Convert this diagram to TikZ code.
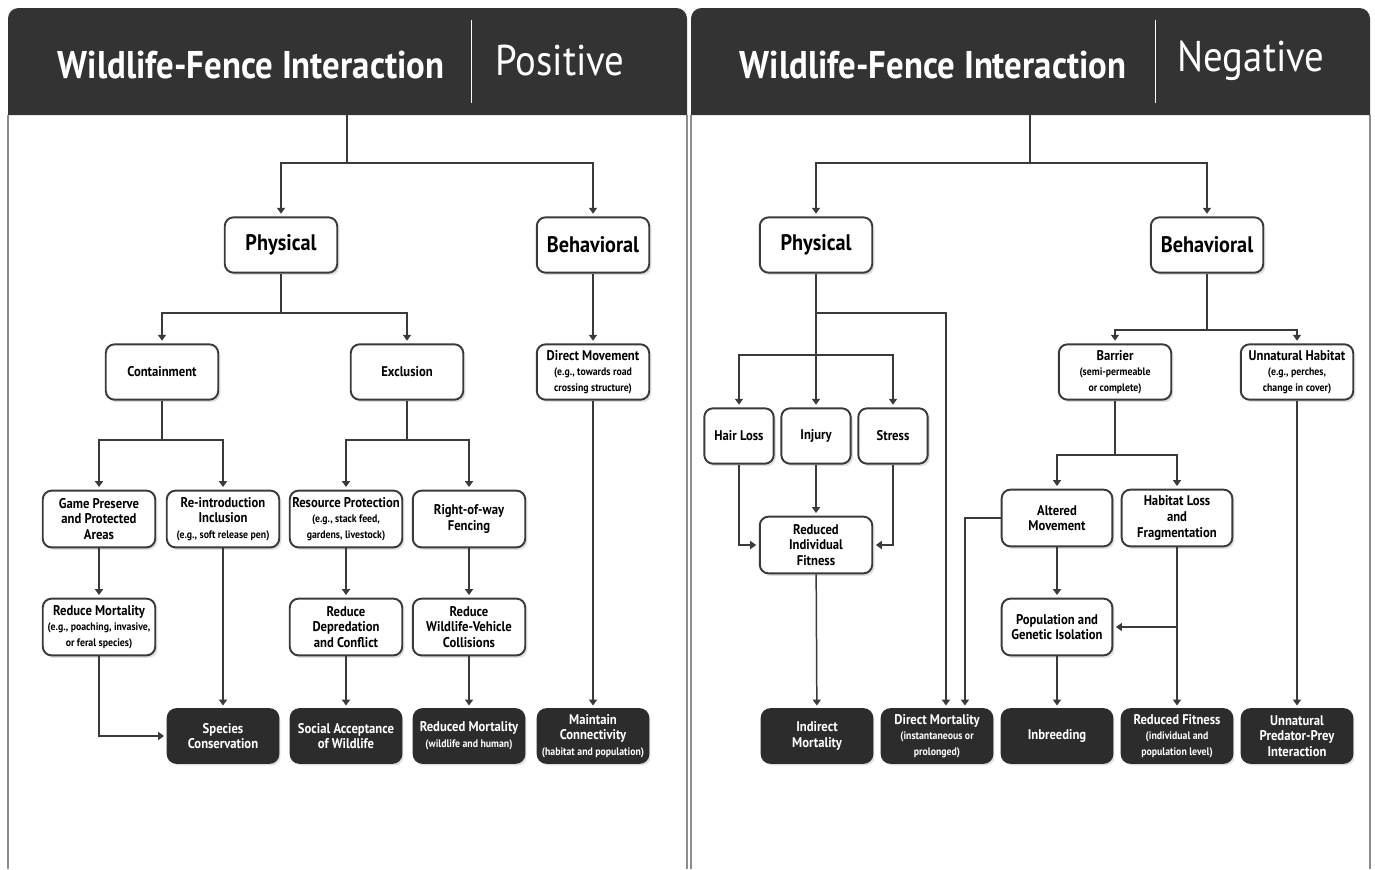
\documentclass[tikz,border=0pt]{standalone}
\usepackage{fontspec}
\setmainfont{PT Sans}[FakeStretch=0.9]
\usetikzlibrary{arrows.meta,shadows}

\definecolor{headdark}{HTML}{333333}
\definecolor{boxdark}{HTML}{2C2C2C}
\definecolor{linegrey}{HTML}{3A3A3A}
\definecolor{framegrey}{HTML}{8C8C8C}
\newcommand{\smallnote}{\fontsize{6.2}{7}\selectfont}

\begin{document}
\begin{tikzpicture}[
  x=0.02cm, y=-0.02cm,
  lightbox/.style={draw=linegrey, line width=1.1pt, rounded corners=5pt, fill=white, align=center, inner sep=1pt,
    minimum width=64pt, minimum height=31.5pt, font=\fontsize{8}{8.9}\selectfont\bfseries,
    drop shadow={shadow xshift=1.2pt, shadow yshift=-1.4pt, opacity=.25}},
  topbox/.style={lightbox, font=\fontsize{12.8}{14}\selectfont\bfseries},
  smallbox/.style={lightbox, minimum width=39.5pt},
  darkbox/.style={lightbox, fill=boxdark, draw=boxdark, text=white, minimum width=63pt, minimum height=30.6pt},
  link/.style={draw=linegrey, line width=0.85pt},
  arr/.style={link, -{Triangle[width=4.6pt,length=3.4pt]}, shorten >=1.5pt},
  titletxt/.style={text=white, font=\fontsize{22}{26}\selectfont\bfseries},
  kindtxt/.style={text=white, font=\fontsize{24.5}{28}\selectfont}
]
\useasboundingbox[fill=white] (0,0) rectangle (1375,869);

% panel frames and dark headers
\fill[headdark] (8,115) [rounded corners=6pt] -- (8,8) -- (687,8) [sharp corners] -- (687,115) -- cycle;
\fill[headdark] (691,115) [rounded corners=6pt] -- (691,8) -- (1370,8) [sharp corners] -- (1370,115) -- cycle;
\draw[framegrey, line width=1.1pt] (8,115) -- (8,869) (687,115) -- (687,869);
\draw[framegrey, line width=1.1pt] (691,115) -- (691,869) (1370,115) -- (1370,869);
\draw[white, line width=0.5pt] (471,20) -- (471,103) (1155,20) -- (1155,103);

\node[titletxt] (ltitle) at (251,65) {Wildlife-Fence Interaction};
\node[kindtxt] (lkind) at (560,61) {Positive};
\node[titletxt] (rtitle) at (933,65) {Wildlife-Fence Interaction};
\node[kindtxt] (rkind) at (1251,61) {Negative};

% Positive side
\node[topbox] (lphys) at (281,245) {Physical};
\node[topbox] (lbeh) at (593,245) {Behavioral};
\node[lightbox] (cont) at (162,372) {Containment};
\node[lightbox] (excl) at (407,372) {Exclusion};
\node[lightbox] (dmove) at (593,372) {Direct Movement\\\smallnote (e.g., towards road\\\smallnote crossing structure)};
\node[lightbox, minimum height=32.3pt] (gamep) at (99,519) {Game Preserve\\and Protected\\Areas};
\node[lightbox, minimum height=32.3pt] (reint) at (223,519) {Re-introduction\\Inclusion\\\smallnote (e.g., soft release pen)};
\node[lightbox, minimum height=32.3pt] (resp) at (346,519) {Resource Protection\\\smallnote (e.g., stack feed,\\\smallnote gardens, livestock)};
\node[lightbox, minimum height=32.3pt] (rway) at (469,519) {Right-of-way\\Fencing};
\node[lightbox, minimum height=32.3pt] (redm) at (99,627) {Reduce Mortality\\\smallnote (e.g., poaching, invasive,\\\smallnote or feral species)};
\node[lightbox, minimum height=32.3pt] (reddep) at (346,627) {Reduce\\Depredation\\and Conflict};
\node[lightbox, minimum height=32.3pt] (redwvc) at (469,627) {Reduce\\Wildlife-Vehicle\\Collisions};
\node[darkbox] (specc) at (223,736) {Species\\Conservation};
\node[darkbox] (socacc) at (346,736) {Social Acceptance\\of Wildlife};
\node[darkbox] (redmort) at (469,736) {Reduced Mortality\\\smallnote (wildlife and human)};
\node[darkbox] (maincon) at (593,736) {Maintain\\Connectivity\\\smallnote (habitat and population)};

\coordinate (lroot) at (347,115);
\coordinate (lsplit) at (347,163);
\coordinate (lphysj) at (281,313);
\coordinate (contj) at (162,440);
\coordinate (exclj) at (407,440);
\draw[link] (lroot) -- (lsplit);
\draw[arr] (lsplit) -| (lphys.north);
\draw[arr] (lsplit) -| (lbeh.north);
\draw[link] (lphys) -- (lphysj);
\draw[arr] (lphysj) -| (cont.north);
\draw[arr] (lphysj) -| (excl.north);
\draw[arr] (lbeh) -- (dmove);
\draw[link] (cont) -- (contj);
\draw[arr] (contj) -| (gamep.north);
\draw[arr] (contj) -| (reint.north);
\draw[link] (excl) -- (exclj);
\draw[arr] (exclj) -| (resp.north);
\draw[arr] (exclj) -| (rway.north);
\draw[arr] (gamep) -- (redm);
\draw[arr] (redm.south) |- (specc.west);
\draw[arr] (reint) -- (specc);
\draw[arr] (resp) -- (reddep);
\draw[arr] (reddep) -- (socacc);
\draw[arr] (rway) -- (redwvc);
\draw[arr] (redwvc) -- (redmort);
\draw[arr] (dmove) -- (maincon);

% Negative side
\node[topbox] (rphys) at (816,245) {Physical};
\node[topbox] (rbeh) at (1207,245) {Behavioral};
\node[smallbox] (hair) at (739,436) {Hair Loss};
\node[smallbox] (injury) at (816,436) {Injury};
\node[smallbox] (stress) at (893,436) {Stress};
\node[lightbox, minimum height=32.3pt] (rif) at (816,545) {Reduced\\Individual\\Fitness};
\node[lightbox] (barrier) at (1115,372) {Barrier\\\smallnote (semi-permeable\\\smallnote or complete)};
\node[lightbox] (unhab) at (1297,372) {Unnatural Habitat\\\smallnote (e.g., perches,\\\smallnote change in cover)};
\node[lightbox, minimum width=63pt, minimum height=32.3pt] (altm) at (1057,518) {Altered\\Movement};
\node[lightbox, minimum width=63pt, minimum height=32.3pt] (hloss) at (1177,518) {Habitat Loss\\and\\Fragmentation};
\node[lightbox, minimum width=63pt, minimum height=32.3pt] (pgi) at (1057,627) {Population and\\Genetic Isolation};
\node[darkbox] (indm) at (817,736) {Indirect\\Mortality};
\node[darkbox] (dirm) at (937,736) {Direct Mortality\\\smallnote (instantaneous or\\\smallnote prolonged)};
\node[darkbox] (inbr) at (1057,736) {Inbreeding};
\node[darkbox] (redfit) at (1177,736) {Reduced Fitness\\\smallnote (individual and\\\smallnote population level)};
\node[darkbox] (predp) at (1297,736) {Unnatural\\Predator-Prey\\Interaction};

\coordinate (rroot) at (1030,115);
\coordinate (rsplit) at (1030,163);
\coordinate (rphysj) at (816,313);
\coordinate (rphysk) at (816,355);
\coordinate (rbehj) at (1207,330);
\coordinate (barj) at (1115,455);
\draw[link] (rroot) -- (rsplit);
\draw[arr] (rsplit) -| (rphys.north);
\draw[arr] (rsplit) -| (rbeh.north);
\draw[arr] (rphys) -- (injury);
\draw[arr] (rphysj) -| ([xshift=5.1pt]dirm.north);
\draw[arr] (rphysk) -| (hair.north);
\draw[arr] (rphysk) -| (stress.north);
\draw[arr] (injury) -- (rif);
\draw[arr] (hair.south) |- (rif.west);
\draw[arr] (stress.south) |- (rif.east);
\draw[arr] (rif) -- (indm);
\draw[link] (rbeh) -- (rbehj);
\draw[arr] (rbehj) -| (barrier.north);
\draw[arr] (rbehj) -| (unhab.north);
\draw[link] (barrier) -- (barj);
\draw[arr] (barj) -| (altm.north);
\draw[arr] (barj) -| (hloss.north);
\draw[arr] (altm.west) -| ([xshift=15.9pt]dirm.north);
\draw[arr] (altm) -- (pgi);
\draw[arr] (pgi) -- (inbr);
\draw[arr] (hloss) -- (redfit);
\draw[arr] (hloss.south |- pgi.east) -- (pgi.east);
\draw[arr] (unhab) -- (predp);
\end{tikzpicture}
\end{document}
